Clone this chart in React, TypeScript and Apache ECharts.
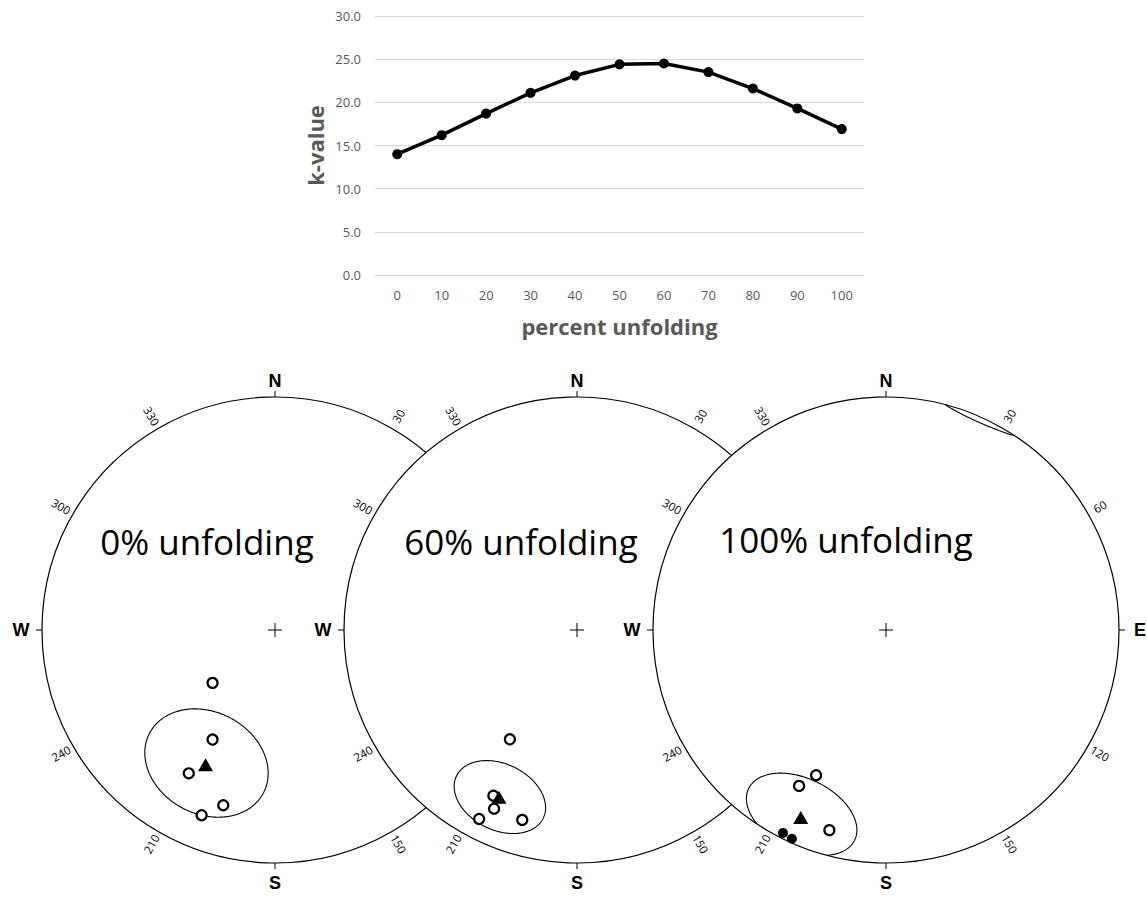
import React, { useEffect, useRef } from "react";
import * as echarts from "echarts";

// ---- k-value versus unfolding -------------------------------------------
const PERCENT_UNFOLDING = ["0", "10", "20", "30", "40", "50", "60", "70", "80", "90", "100"];
const K_VALUE = [14.0, 16.2, 18.7, 21.1, 23.1, 24.4, 24.5, 23.5, 21.6, 19.3, 16.9];
const K_MIN = 0;
const K_MAX = 30;
const K_STEP = 5;

// ---- stereonets (equal-area, x = east, y = north, primitive radius = 1) --
const NET_TITLES = ["0% unfolding", "60% unfolding", "100% unfolding"];

const SITES_OPEN_0 = [[-0.268, -0.227], [-0.268, -0.470], [-0.370, -0.615], [-0.222, -0.752], [-0.315, -0.795]];
const SITES_OPEN_60 = [[-0.288, -0.469], [-0.359, -0.711], [-0.356, -0.767], [-0.420, -0.811], [-0.235, -0.815]];
const SITES_OPEN_100 = [[-0.300, -0.623], [-0.373, -0.669], [-0.243, -0.859]];
const SITES_FILLED_0: number[][] = [];
const SITES_FILLED_60: number[][] = [];
const SITES_FILLED_100 = [[-0.442, -0.871], [-0.404, -0.896]];

const MEAN_0 = [[-0.298, -0.578]];
const MEAN_60 = [[-0.335, -0.718]];
const MEAN_100 = [[-0.366, -0.805]];

// alpha-95 cones: [centre x, centre y, semi-major, semi-minor, tilt in degrees]
const CONE_0 = [[-0.294, -0.571, 0.276, 0.219, -27.7]];
const CONE_60 = [[-0.331, -0.717, 0.207, 0.142, -26]];
const CONE_100 = [[-0.362, -0.791, 0.253, 0.153, -26]];

const COMPASS_POINTS = ["N", "E", "S", "W"];
const COMPASS_AZIMUTHS = [0, 90, 180, 270];
const AZIMUTH_LABELS = [30, 60, 120, 150, 210, 240, 300, 330];

// layout of the three nets on the page
const NET_RADIUS = 233;
const NET_CENTRES = [
  [275, 630],
  [577, 630],
  [886, 630],
];
const TITLE_POSITIONS = [
  [207, 541],
  [521, 541],
  [846, 539],
];

const NETS = [
  { open: SITES_OPEN_0, filled: SITES_FILLED_0, mean: MEAN_0, cone: CONE_0 },
  { open: SITES_OPEN_60, filled: SITES_FILLED_60, mean: MEAN_60, cone: CONE_60 },
  { open: SITES_OPEN_100, filled: SITES_FILLED_100, mean: MEAN_100, cone: CONE_100 },
];

const LABEL_GAP: Record<string, number> = { N: 16, S: 20, E: 21, W: 21 };

function renderPrimitive(_params: any, api: any) {
  const c = api.coord([0, 0]);
  const e = api.coord([1, 0]);
  const r = e[0] - c[0];
  const children: any[] = [];
  children.push({
    type: "circle",
    shape: { cx: c[0], cy: c[1], r },
    style: { fill: "#fff", stroke: "#000", lineWidth: 1.2 },
  });
  COMPASS_POINTS.forEach((label, i) => {
    const rad = (COMPASS_AZIMUTHS[i] * Math.PI) / 180;
    const s = Math.sin(rad);
    const k = Math.cos(rad);
    children.push({
      type: "line",
      shape: { x1: c[0] + s * r, y1: c[1] - k * r, x2: c[0] + s * (r + 6), y2: c[1] - k * (r + 6) },
      style: { stroke: "#000", lineWidth: 1 },
    });
    const g = r + LABEL_GAP[label];
    children.push({
      type: "text",
      x: c[0] + s * g,
      y: c[1] - k * g,
      style: {
        text: label,
        align: "center",
        verticalAlign: "middle",
        fontSize: 18,
        fontWeight: "bold",
        fontFamily: "Liberation Sans, Arial, sans-serif",
        fill: "#000",
      },
    });
  });
  AZIMUTH_LABELS.forEach((az) => {
    const rad = (az * Math.PI) / 180;
    const g = r + 14;
    const rot = az < 180 ? 90 - az : 270 - az;
    children.push({
      type: "text",
      x: c[0] + Math.sin(rad) * g,
      y: c[1] - Math.cos(rad) * g,
      rotation: (rot * Math.PI) / 180,
      style: {
        text: String(az),
        align: "center",
        verticalAlign: "middle",
        fontSize: 11.5,
        fontFamily: "Open Sans, sans-serif",
        fill: "#000",
      },
    });
  });
  // centre cross
  children.push({
    type: "line",
    shape: { x1: c[0] - 7, y1: c[1], x2: c[0] + 7, y2: c[1] },
    style: { stroke: "#000", lineWidth: 1 },
  });
  children.push({
    type: "line",
    shape: { x1: c[0], y1: c[1] - 7, x2: c[0], y2: c[1] + 7 },
    style: { stroke: "#000", lineWidth: 1 },
  });
  return { type: "group", children };
}

function renderCone(_params: any, api: any) {
  const cx = api.value(0);
  const cy = api.value(1);
  const a = api.value(2);
  const b = api.value(3);
  const tilt = (api.value(4) * Math.PI) / 180;
  const N = 360;
  const pts: number[][] = [];
  for (let i = 0; i < N; i++) {
    const t = (2 * Math.PI * i) / N;
    pts.push([
      cx + a * Math.cos(t) * Math.cos(tilt) - b * Math.sin(t) * Math.sin(tilt),
      cy + a * Math.cos(t) * Math.sin(tilt) + b * Math.sin(t) * Math.cos(tilt),
    ]);
  }
  const inside = pts.map((p) => Math.hypot(p[0], p[1]) <= 1);
  const style = { stroke: "#000", lineWidth: 1.1, fill: "none" };
  const children: any[] = [];
  const toPixel = (p: number[]) => api.coord(p);
  // parts beyond the primitive re-enter from the opposite side (upper hemisphere)
  const wrap = (p: number[]) => {
    const rr = Math.hypot(p[0], p[1]);
    const f = -Math.sqrt(Math.max(0, 2 - rr * rr)) / rr;
    return [p[0] * f, p[1] * f];
  };
  const flush = (run: number[][], isIn: boolean) => {
    if (run.length < 2) return;
    const px = run.map((p) => toPixel(isIn ? p : wrap(p)));
    children.push({ type: "polyline", shape: { points: px }, style });
  };
  let start = -1;
  for (let i = 0; i < N; i++) {
    if (inside[i] !== inside[(i - 1 + N) % N]) {
      start = i;
      break;
    }
  }
  if (start < 0) {
    if (inside[0]) {
      children.push({ type: "polygon", shape: { points: pts.map(toPixel) }, style });
    }
  } else {
    let state = inside[start];
    let run: number[][] = [];
    for (let k = 0; k <= N; k++) {
      const i = (start + k) % N;
      if (k < N && inside[i] === state) {
        run.push(pts[i]);
      } else {
        flush(run, state);
        if (k < N) {
          state = inside[i];
          run = [pts[i]];
        }
      }
    }
  }
  return { type: "group", children };
}

function buildOption() {
  const grids: any[] = [{ left: 375, top: 16, width: 489, height: 259 }];
  const xAxes: any[] = [
    {
      type: "category",
      gridIndex: 0,
      data: PERCENT_UNFOLDING,
      boundaryGap: true,
      axisTick: { show: false },
      axisLine: { lineStyle: { color: "#d9d9d9", width: 1 } },
      axisLabel: { color: "#595959", fontSize: 13, margin: 13, fontFamily: "Open Sans, sans-serif" },
      name: "percent unfolding",
      nameLocation: "middle",
      nameGap: 40,
      nameTextStyle: { color: "#595959", fontSize: 22, fontWeight: "bold", fontFamily: "Open Sans, sans-serif" },
    },
  ];
  const yAxes: any[] = [
    {
      type: "value",
      gridIndex: 0,
      min: K_MIN,
      max: K_MAX,
      interval: K_STEP,
      axisLine: { show: false },
      axisTick: { show: false },
      splitLine: { lineStyle: { color: "#d9d9d9", width: 1 } },
      axisLabel: {
        color: "#595959",
        fontSize: 13,
        margin: 14,
        fontFamily: "Open Sans, sans-serif",
        formatter: (v: number) => v.toFixed(1),
      },
      name: "k-value",
      nameLocation: "middle",
      nameRotate: 90,
      nameGap: 49,
      nameTextStyle: { color: "#595959", fontSize: 22, fontWeight: "bold", fontFamily: "Open Sans, sans-serif" },
    },
  ];
  const series: any[] = [
    {
      type: "line",
      xAxisIndex: 0,
      yAxisIndex: 0,
      data: K_VALUE,
      symbol: "circle",
      symbolSize: 10,
      lineStyle: { color: "#000", width: 3.5 },
      itemStyle: { color: "#000" },
      z: 5,
    },
  ];

  NETS.forEach((net, i) => {
    const [cx, cy] = NET_CENTRES[i];
    const idx = i + 1;
    grids.push({ left: cx - NET_RADIUS, top: cy - NET_RADIUS, width: NET_RADIUS * 2, height: NET_RADIUS * 2 });
    xAxes.push({ type: "value", gridIndex: idx, min: -1, max: 1, show: false });
    yAxes.push({ type: "value", gridIndex: idx, min: -1, max: 1, show: false });
    const base = 10 + i * 10;
    series.push({
      type: "custom",
      xAxisIndex: idx,
      yAxisIndex: idx,
      data: [[0, 0]],
      renderItem: renderPrimitive,
      silent: true,
      z: base,
    });
    series.push({
      type: "custom",
      xAxisIndex: idx,
      yAxisIndex: idx,
      data: net.cone,
      encode: { x: 0, y: 1 },
      renderItem: renderCone,
      silent: true,
      z: base + 1,
    });
    series.push({
      type: "scatter",
      xAxisIndex: idx,
      yAxisIndex: idx,
      data: net.open,
      symbol: "circle",
      symbolSize: 10,
      itemStyle: { color: "#fff", borderColor: "#000", borderWidth: 2.2, opacity: 1 },
      z: base + 2,
      clip: false,
    });
    if (net.filled.length) {
      series.push({
        type: "scatter",
        xAxisIndex: idx,
        yAxisIndex: idx,
        data: net.filled,
        symbol: "circle",
        symbolSize: 10,
        itemStyle: { color: "#000", opacity: 1 },
        z: base + 3,
        clip: false,
      });
    }
    series.push({
      type: "scatter",
      xAxisIndex: idx,
      yAxisIndex: idx,
      data: net.mean,
      symbol: "triangle",
      symbolSize: [15, 13],
      itemStyle: { color: "#000", opacity: 1 },
      z: base + 4,
      clip: false,
    });
  });

  const graphic = NET_TITLES.map((title, i) => ({
    type: "text",
    x: TITLE_POSITIONS[i][0],
    y: TITLE_POSITIONS[i][1],
    z: 100,
    style: {
      text: title,
      align: "center",
      verticalAlign: "middle",
      fontSize: 35,
      fontFamily: "Open Sans, sans-serif",
      fill: "#000",
    },
  }));

  return {
    animation: false,
    backgroundColor: "#fff",
    grid: grids,
    xAxis: xAxes,
    yAxis: yAxes,
    series,
    graphic,
  };
}

export default function App() {
  const ref = useRef<HTMLDivElement>(null);
  useEffect(() => {
    if (!ref.current) return;
    const chart = echarts.init(ref.current, undefined, { renderer: "svg" });
    chart.setOption(buildOption() as any);
    return () => chart.dispose();
  }, []);
  return (
    <div
      ref={ref}
      style={{ position: "fixed", left: 0, top: 0, width: 1147, height: 899, background: "#fff" }}
    />
  );
}
